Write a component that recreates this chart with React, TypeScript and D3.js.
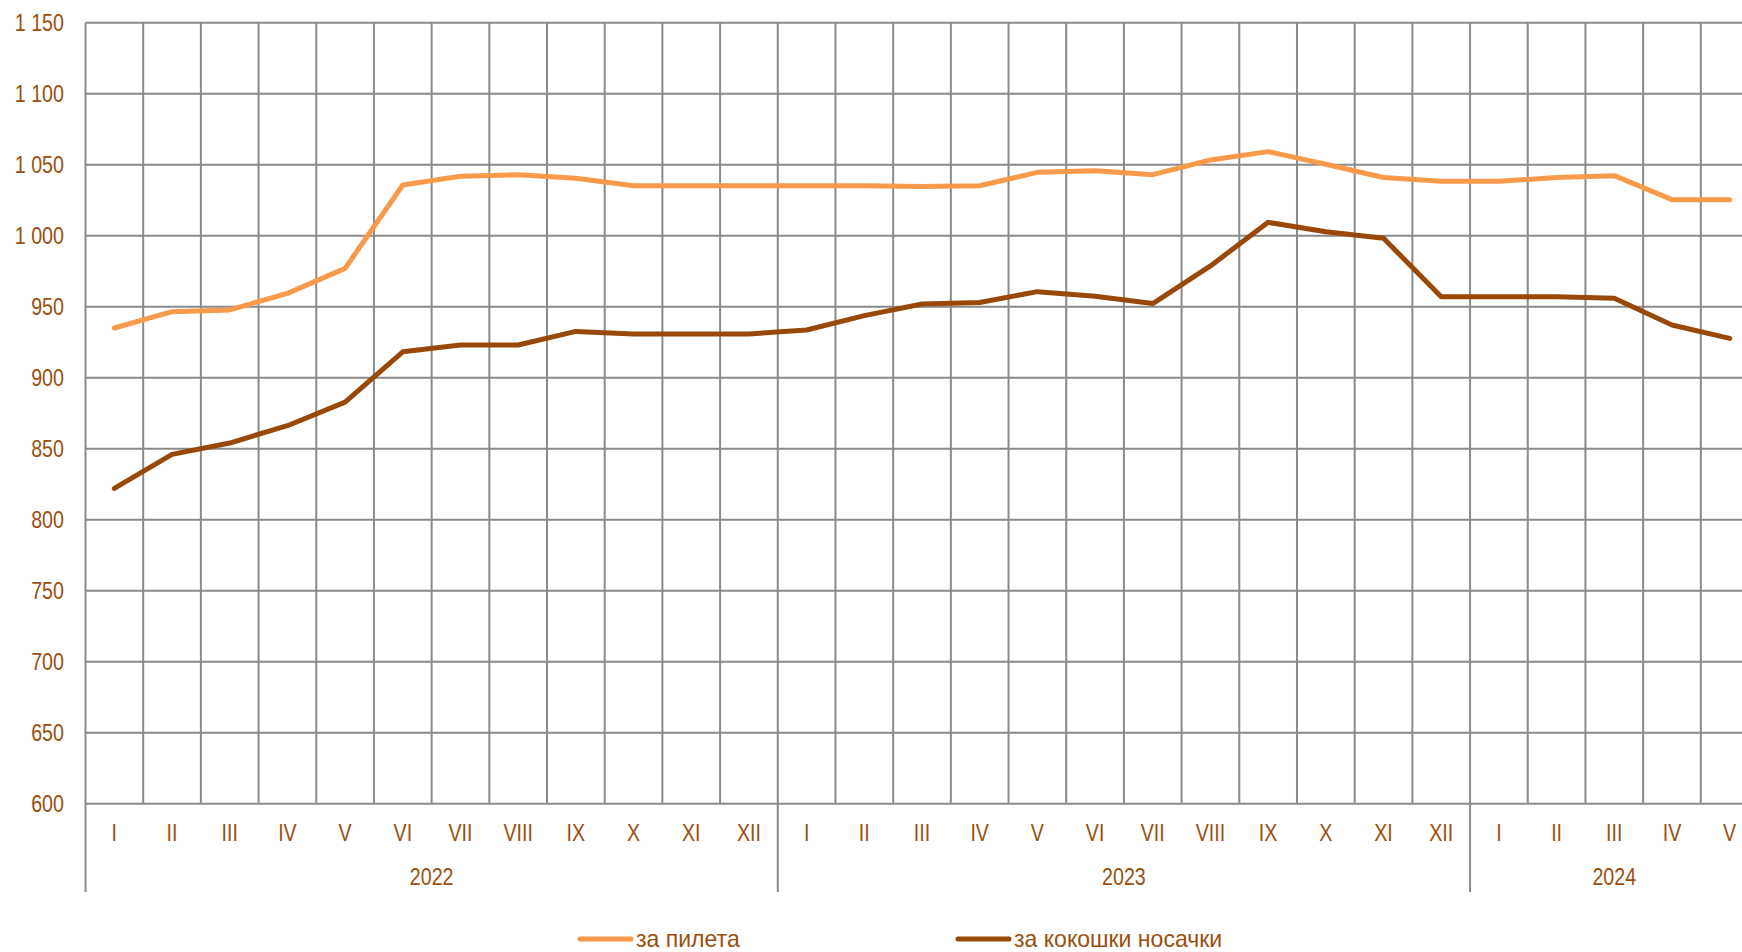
import React, { useEffect, useRef } from 'react';
import * as d3 from 'd3';

// monthly prices, Jan 2022 .. May 2024
const MONTHS = ['I', 'II', 'III', 'IV', 'V', 'VI', 'VII', 'VIII', 'IX', 'X', 'XI', 'XII',
  'I', 'II', 'III', 'IV', 'V', 'VI', 'VII', 'VIII', 'IX', 'X', 'XI', 'XII',
  'I', 'II', 'III', 'IV', 'V'];
const YEARS = ['2022', '2023', '2024'];
const YEAR_LENGTHS = [12, 12, 5];

const CHICKS = [935, 946.5, 947.7, 959.4, 977, 1035.7, 1041.8, 1043, 1040.4, 1035.2, 1035.2, 1035.2,
  1035.2, 1035.2, 1034.7, 1035.2, 1044.6, 1045.8, 1043, 1053.3, 1059.2, 1050.3, 1041, 1038.3,
  1038.3, 1041, 1042.3, 1025.4, 1025.4];
const HENS = [822, 846, 854, 866.2, 882.8, 918.2, 923, 923, 932.6, 930.8, 930.8, 930.8,
  933.6, 943.7, 951.9, 953, 960.6, 957.3, 952.2, 978.7, 1009.4, 1002.8, 998.2, 957,
  957, 957, 955.9, 937.1, 927.7];

const Y_TICKS = [600, 650, 700, 750, 800, 850, 900, 950, 1000, 1050, 1100, 1150];
const SERIES_NAMES = ['за пилета', 'за кокошки носачки'];
const COLORS = ['#f99a4b', '#984807'];

const TEXT_COLOR = '#9a4f0e';
const GRID = '#8a8a8a';
const FONT = '"Liberation Sans", Arial, sans-serif';
const NARROW = 0.82; // the original axis font is a condensed one

const App = () => {
  const svgRef = useRef<SVGSVGElement>(null);

  useEffect(() => {
    const svg = d3.select(svgRef.current);
    svg.selectAll('*').remove();

    const width = 1742;
    const height = 952;
    const left = 85.5;
    const top = 22.7;
    const bottom = 803.7;
    const step = 57.69;

    const x = d3.scaleBand<number>()
      .domain(d3.range(MONTHS.length))
      .range([left, left + step * MONTHS.length])
      .padding(0);

    const y = d3.scaleLinear()
      .domain([600, 1150])
      .range([bottom, top]);

    const fmt = (v: number) => d3.format(',')(v).replace(',', ' ');

    // horizontal grid
    svg.append('g')
      .selectAll('line')
      .data(Y_TICKS)
      .join('line')
      .attr('x1', left)
      .attr('x2', width + 20)
      .attr('y1', d => y(d))
      .attr('y2', d => y(d))
      .attr('stroke', GRID)
      .attr('stroke-width', 2);

    // vertical grid (month boundaries)
    svg.append('g')
      .selectAll('line')
      .data(d3.range(MONTHS.length + 1))
      .join('line')
      .attr('x1', d => left + d * x.step())
      .attr('x2', d => left + d * x.step())
      .attr('y1', top)
      .attr('y2', bottom)
      .attr('stroke', GRID)
      .attr('stroke-width', 2);

    // year separators below axis
    const starts = d3.cumsum([0, ...YEAR_LENGTHS]);
    svg.append('g')
      .selectAll('line')
      .data(starts.slice(0, YEARS.length))
      .join('line')
      .attr('x1', d => left + d * x.step())
      .attr('x2', d => left + d * x.step())
      .attr('y1', bottom)
      .attr('y2', 892)
      .attr('stroke', GRID)
      .attr('stroke-width', 2);

    const label = (sel: any) => sel
      .attr('dy', '0.35em')
      .style('font-family', FONT)
      .style('font-size', '24px')
      .attr('fill', TEXT_COLOR);

    // y labels
    svg.append('g')
      .selectAll('text')
      .data(Y_TICKS)
      .join('text')
      .attr('transform', d => `translate(64,${y(d)}) scale(${NARROW},1)`)
      .attr('text-anchor', 'end')
      .call(label)
      .text(d => fmt(d));

    // month labels
    svg.append('g')
      .selectAll('text')
      .data(MONTHS)
      .join('text')
      .attr('transform', (d, i) => `translate(${(x(i) as number) + x.bandwidth() / 2},833) scale(${NARROW},1)`)
      .attr('text-anchor', 'middle')
      .call(label)
      .text(d => d);

    // year labels
    svg.append('g')
      .selectAll('text')
      .data(YEARS)
      .join('text')
      .attr('transform', (d, i) => `translate(${left + (starts[i] + YEAR_LENGTHS[i] / 2) * x.step()},877) scale(${NARROW},1)`)
      .attr('text-anchor', 'middle')
      .call(label)
      .text(d => d);

    // lines
    const line = d3.line<number>()
      .x((d, i) => (x(i) as number) + x.bandwidth() / 2)
      .y(d => y(d));

    [CHICKS, HENS].forEach((s, k) => {
      svg.append('path')
        .datum(s)
        .attr('d', line)
        .attr('fill', 'none')
        .attr('stroke', COLORS[k])
        .attr('stroke-width', 5)
        .attr('stroke-linejoin', 'round')
        .attr('stroke-linecap', 'round');
    });

    // legend
    const legendX = [580, 958];
    const legend = svg.append('g')
      .selectAll('g')
      .data(SERIES_NAMES)
      .join('g')
      .attr('transform', (d, i) => `translate(${legendX[i]},939)`);

    legend.append('line')
      .attr('x1', 0)
      .attr('x2', 51)
      .attr('stroke', (d, i) => COLORS[i])
      .attr('stroke-width', 5)
      .attr('stroke-linecap', 'round');

    legend.append('text')
      .attr('transform', `translate(56,0) scale(0.96,1)`)
      .call(label)
      .text(d => d);

    svg.attr('width', width).attr('height', height);
  }, []);

  return (
    <svg ref={svgRef} width={1742} height={952}
      style={{ position: 'absolute', left: 0, top: 0, background: '#fff' }} />
  );
};

export default App;
